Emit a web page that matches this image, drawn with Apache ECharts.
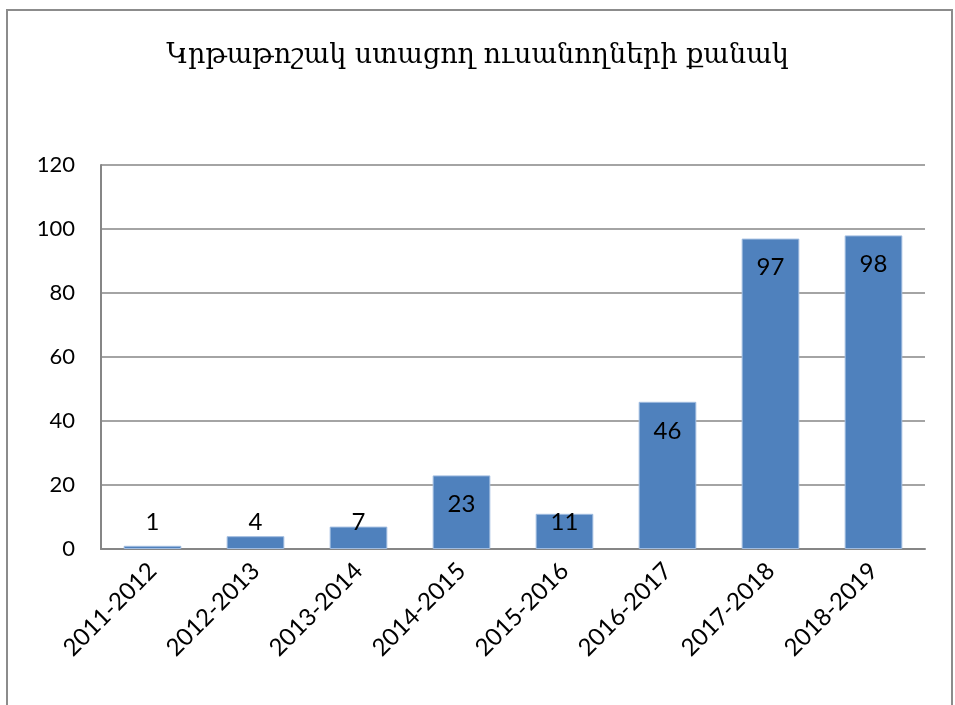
<!DOCTYPE html>
<html><head><meta charset="utf-8">
<script src="https://cdn.jsdelivr.net/npm/echarts@6/dist/echarts.min.js"></script>
<style>html,body{margin:0;padding:0;background:#fff}#c{width:955px;height:705px}</style>
</head><body><div id="c"></div>
<script>
const titleText = 'Կրթաթոշակ ստացող ուսանողների քանակ';
const categories = ['2011-2012','2012-2013','2013-2014','2014-2015','2015-2016','2016-2017','2017-2018','2018-2019'];
const values = [1, 4, 7, 23, 11, 46, 97, 98];
const yTicks = [0, 20, 40, 60, 80, 100, 120];

const chart = echarts.init(document.getElementById('c'));
const fontFam = 'Lato, "Open Sans", sans-serif';
chart.setOption({
  animation: false,
  title: {
    text: titleText, left: 'center', top: 37,
    textStyle: {fontFamily: '"DejaVu Serif", serif', fontSize: 27, fontWeight: 'normal', color: '#000'}
  },
  graphic: [{type: 'rect', shape: {x: 7, y: 10, width: 945, height: 710}, style: {fill: 'none', stroke: '#8c8c8c', lineWidth: 2}, silent: true}],
  grid: {left: 101, right: 30, top: 165, bottom: 156},
  xAxis: {
    type: 'category', data: categories,
    axisLine: {show: true, lineStyle: {color: '#868686', width: 2}},
    axisTick: {show: false},
    axisLabel: {rotate: 45, interval: 0, fontFamily: fontFam, fontSize: 24, color: '#000', margin: 18}
  },
  yAxis: {
    type: 'value', min: yTicks[0], max: yTicks[yTicks.length - 1], interval: 20,
    axisLine: {show: true, lineStyle: {color: '#868686', width: 2}},
    axisTick: {show: false},
    splitLine: {lineStyle: {color: '#868686', width: 1.5}},
    axisLabel: {fontFamily: fontFam, fontSize: 22, color: '#000', margin: 26}
  },
  series: [{
    type: 'bar', barWidth: '56%',
    itemStyle: {color: '#4f81bd', borderColor: '#a0bce0', borderWidth: 1},
    data: values.map(v => ({
      value: v,
      label: {show: true, position: v < 15 ? 'insideBottom' : 'insideTop', distance: v < 15 ? 15 : 17,
        fontFamily: fontFam, fontSize: 24, color: '#000'}
    }))
  }]
});
</script></body></html>
